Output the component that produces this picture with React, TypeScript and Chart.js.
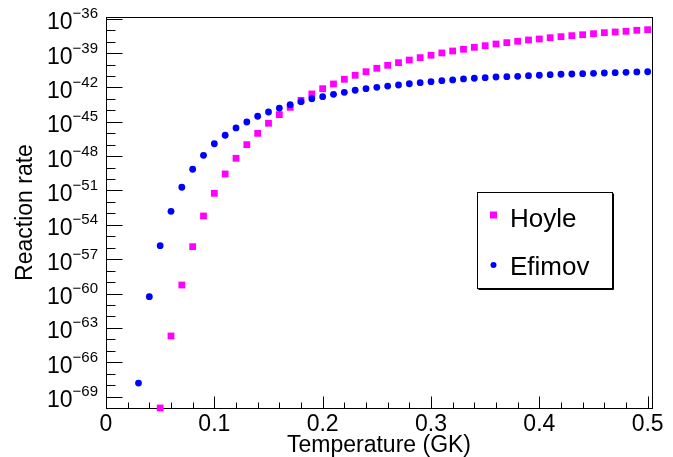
import React, { useEffect, useRef } from 'react';
import { Chart, registerables } from 'chart.js';

Chart.register(...registerables);

// ---- data ----
const efimovT = [0.03, 0.04, 0.05, 0.06, 0.07, 0.08, 0.09, 0.1, 0.11, 0.12, 0.13, 0.14, 0.15, 0.16, 0.17, 0.18, 0.19, 0.2, 0.21, 0.22, 0.23, 0.24, 0.25, 0.26, 0.27, 0.28, 0.29, 0.3, 0.31, 0.32, 0.33, 0.34, 0.35, 0.36, 0.37, 0.38, 0.39, 0.4, 0.41, 0.42, 0.43, 0.44, 0.45, 0.46, 0.47, 0.48, 0.49, 0.5];
const efimovRate = [1.51e-68, 5.25e-61, 1.51e-56, 1.51e-53, 1.91e-51, 7.08e-50, 1.17e-48, 1.2e-47, 6.61e-47, 2.88e-46, 9.55e-46, 3.02e-45, 7.08e-45, 1.58e-44, 3.09e-44, 5.62e-44, 1.02e-43, 1.55e-43, 2.51e-43, 3.72e-43, 5.62e-43, 7.76e-43, 1.02e-42, 1.32e-42, 1.62e-42, 2.09e-42, 2.57e-42, 3.16e-42, 3.89e-42, 4.47e-42, 5.5e-42, 6.31e-42, 7.08e-42, 8.13e-42, 8.71e-42, 9.33e-42, 1.05e-41, 1.15e-41, 1.29e-41, 1.41e-41, 1.48e-41, 1.58e-41, 1.7e-41, 1.82e-41, 1.95e-41, 2.09e-41, 2.24e-41, 2.34e-41];

const hoyleT = [0.05, 0.06, 0.07, 0.08, 0.09, 0.1, 0.11, 0.12, 0.13, 0.14, 0.15, 0.16, 0.17, 0.18, 0.19, 0.2, 0.21, 0.22, 0.23, 0.24, 0.25, 0.26, 0.27, 0.28, 0.29, 0.3, 0.31, 0.32, 0.33, 0.34, 0.35, 0.36, 0.37, 0.38, 0.39, 0.4, 0.41, 0.42, 0.43, 0.44, 0.45, 0.46, 0.47, 0.48, 0.49, 0.5];
const hoyleRate = [1.0e-70, 1.95e-64, 5.5e-60, 1.23e-56, 5.89e-54, 5.62e-52, 2.75e-50, 6.46e-49, 1.0e-47, 9.77e-47, 7.41e-46, 4.17e-45, 1.82e-44, 7.41e-44, 2.69e-43, 7.76e-43, 2.0e-42, 5.13e-42, 1.15e-41, 2.34e-41, 4.68e-41, 8.51e-41, 1.45e-40, 2.45e-40, 3.98e-40, 6.46e-40, 1.02e-39, 1.51e-39, 2.14e-39, 3.16e-39, 4.37e-39, 6.17e-39, 8.13e-39, 1.07e-38, 1.38e-38, 1.7e-38, 2.19e-38, 2.69e-38, 3.31e-38, 3.98e-38, 4.9e-38, 6.03e-38, 6.92e-38, 7.94e-38, 9.77e-38, 1.1e-37];

const xTickValues = [0, 0.1, 0.2, 0.3, 0.4, 0.5];
const xTickLabels = ['0', '0.1', '0.2', '0.3', '0.4', '0.5'];
const xMinorTicks = [0.02, 0.04, 0.06, 0.08, 0.12, 0.14, 0.16, 0.18, 0.22, 0.24, 0.26, 0.28, 0.32, 0.34, 0.36, 0.38, 0.42, 0.44, 0.46, 0.48];
const yLabelExponents = [-36, -39, -42, -45, -48, -51, -54, -57, -60, -63, -66, -69];
const yDecadeExponents = [-70, -69, -68, -67, -66, -65, -64, -63, -62, -61, -60, -59, -58, -57, -56, -55, -54, -53, -52, -51, -50, -49, -48, -47, -46, -45, -44, -43, -42, -41, -40, -39, -38, -37, -36];

const seriesNames = ['Hoyle', 'Efimov'];
const xTitle = 'Temperature (GK)';
const yTitle = 'Reaction rate';

const X_MIN = 0;
const X_MAX = 0.504;
const Y_MIN = 1e-70;
const Y_MAX = 1.41e-36;

const FONT = '"Liberation Sans", Arial, Helvetica, sans-serif';
const PINK = '#ff00ff';
const BLUE = '#0000ff';

const rootPlugin = {
  id: 'rootStyle',
  beforeDatasetsDraw(chart: any) {
    const { ctx, chartArea } = chart;
    const xs = chart.scales.x;
    const ys = chart.scales.y;
    const L = Math.round(chartArea.left) + 0.5;
    const R = Math.round(chartArea.right) + 0.5;
    const T = Math.round(chartArea.top) + 0.5;
    const B = Math.round(chartArea.bottom) + 0.5;
    ctx.save();
    ctx.strokeStyle = '#000';
    ctx.lineWidth = 1;
    ctx.strokeRect(L, T, R - L, B - T);

    // x ticks (inward)
    ctx.beginPath();
    xTickValues.forEach((v) => {
      const px = Math.round(xs.getPixelForValue(v)) + 0.5;
      ctx.moveTo(px, B);
      ctx.lineTo(px, B - 12);
    });
    xMinorTicks.forEach((v) => {
      const px = Math.round(xs.getPixelForValue(v)) + 0.5;
      ctx.moveTo(px, B);
      ctx.lineTo(px, B - 6);
    });
    // y ticks (inward)
    yDecadeExponents.forEach((e) => {
      const py = Math.round(ys.getPixelForValue(Number('1e' + e))) + 0.5;
      if (py < T - 0.1 || py > B + 0.1) return;
      const long = yLabelExponents.indexOf(e) >= 0;
      ctx.moveTo(L, py);
      ctx.lineTo(L + (long ? 16 : 9), py);
    });
    ctx.stroke();

    // x labels
    ctx.fillStyle = '#000';
    ctx.font = '23px ' + FONT;
    ctx.textAlign = 'center';
    ctx.textBaseline = 'alphabetic';
    xTickValues.forEach((v, i) => {
      ctx.fillText(xTickLabels[i], xs.getPixelForValue(v), 431);
    });

    // y labels 10^{-n}
    const baseFont = '23px ' + FONT;
    const supFont = '15px ' + FONT;
    yLabelExponents.forEach((e) => {
      const py = ys.getPixelForValue(Number('1e' + e));
      const sup = '\u2212' + Math.abs(e);
      ctx.font = supFont;
      const supW = ctx.measureText(sup).width;
      ctx.font = baseFont;
      const baseW = ctx.measureText('10').width;
      const right = 98;
      ctx.textAlign = 'left';
      ctx.fillText('10', right - supW - baseW, py + 10.5);
      ctx.font = supFont;
      ctx.fillText(sup, right - supW, py - 0.5);
    });

    // axis titles
    ctx.font = '23px ' + FONT;
    ctx.textAlign = 'center';
    ctx.fillText(xTitle, (chartArea.left + chartArea.right) / 2, 452);
    ctx.save();
    ctx.translate(32, (chartArea.top + chartArea.bottom) / 2);
    ctx.rotate(-Math.PI / 2);
    ctx.fillText(yTitle, 0, 0);
    ctx.restore();
    ctx.restore();
  },
  afterDraw(chart: any) {
    const { ctx } = chart;
    ctx.save();
    // legend box
    const bx = 477.5, by = 192.5, bw = 135, bh = 96;
    ctx.fillStyle = '#fff';
    ctx.fillRect(bx, by, bw, bh);
    ctx.strokeStyle = '#000';
    ctx.lineWidth = 1;
    ctx.strokeRect(bx, by, bw, bh);
    ctx.beginPath();
    ctx.moveTo(bx + bw + 1, by + 1);
    ctx.lineTo(bx + bw + 1, by + bh + 1);
    ctx.lineTo(bx + 1, by + bh + 1);
    ctx.stroke();

    ctx.fillStyle = PINK;
    ctx.fillRect(490, 211.5, 7, 7);
    ctx.fillStyle = BLUE;
    ctx.beginPath();
    ctx.arc(493.5, 265, 3, 0, Math.PI * 2);
    ctx.fill();

    ctx.fillStyle = '#000';
    ctx.font = '26px ' + FONT;
    ctx.textAlign = 'left';
    ctx.textBaseline = 'alphabetic';
    ctx.fillText(seriesNames[0], 510, 227);
    ctx.fillText(seriesNames[1], 510, 275);
    ctx.restore();
  },
};

export default function App() {
  const canvasRef = useRef<HTMLCanvasElement | null>(null);

  useEffect(() => {
    const canvas = canvasRef.current;
    if (!canvas) return;
    const chart = new Chart(canvas, {
      type: 'scatter',
      data: {
        datasets: [
          {
            label: seriesNames[1],
            data: efimovT.map((t, i) => ({ x: t, y: efimovRate[i] })),
            pointStyle: 'circle',
            pointRadius: 3.4,
            pointHoverRadius: 3.4,
            pointBorderWidth: 0,
            pointBackgroundColor: BLUE,
            backgroundColor: BLUE,
            borderColor: BLUE,
            showLine: false,
            clip: false as any,
          },
          {
            label: seriesNames[0],
            data: hoyleT.map((t, i) => ({ x: t, y: hoyleRate[i] })),
            pointStyle: 'rect',
            pointRadius: 4.8,
            pointHoverRadius: 4.8,
            pointBorderWidth: 0,
            pointBackgroundColor: PINK,
            backgroundColor: PINK,
            borderColor: PINK,
            showLine: false,
            clip: false as any,
          },
        ],
      },
      options: {
        animation: false,
        responsive: false,
        events: [],
        layout: { padding: { left: 106, right: 21, top: 17, bottom: 49 } },
        plugins: { legend: { display: false }, tooltip: { enabled: false } },
        scales: {
          x: { type: 'linear', min: X_MIN, max: X_MAX, display: false },
          y: { type: 'logarithmic', min: Y_MIN, max: Y_MAX, display: false },
        },
      },
      plugins: [rootPlugin],
    });
    return () => chart.destroy();
  }, []);

  return (
    <div style={{ position: 'absolute', left: 0, top: 0, width: 673, height: 457, background: '#fff' }}>
      <canvas ref={canvasRef} width={673} height={457} style={{ display: 'block' }} />
    </div>
  );
}
